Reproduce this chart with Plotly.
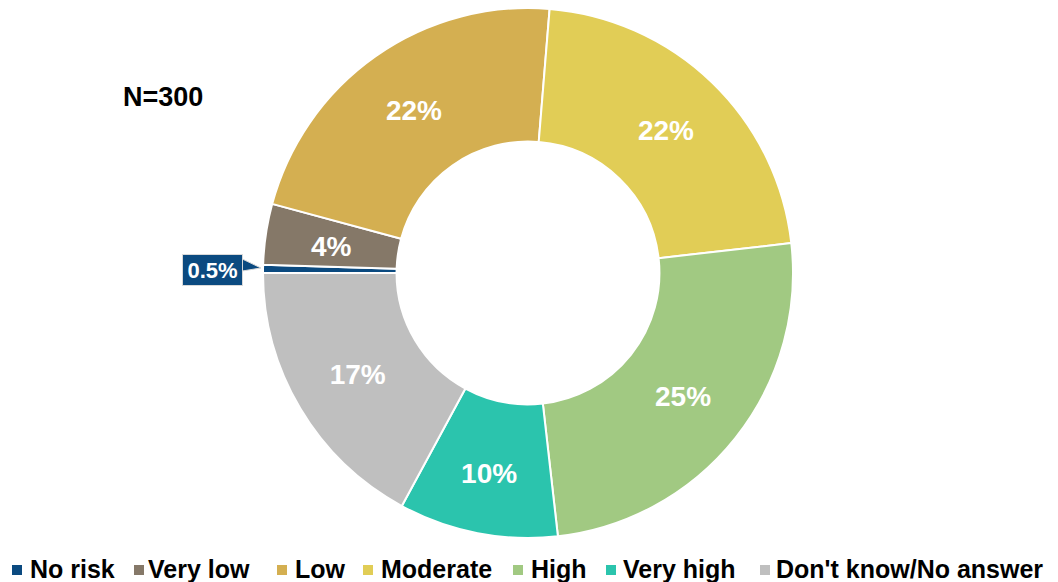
import math
import plotly.graph_objects as go

categories = ["No risk", "Very low", "Low", "Moderate", "High", "Very high", "Don't know/No answer"]
values = [0.5, 3.7, 22.1, 21.9, 25.0, 9.7, 17.1]
value_labels = ["0.5%", "4%", "22%", "22%", "25%", "10%", "17%"]
colors = ["#0B4A80", "#857868", "#D4AF51", "#E1CD56", "#A1C982", "#2BC4AD", "#BFBFBF"]
sample_label = "N=300"

W, H = 1058, 582
OFF = 8  # page body margin of the html page
FONT = "Liberation Sans, Arial"

# layout (screen pixels)
cx, cy, R = 528 - OFF, 273 - OFF, 265
HOLE = 0.496
legend_sym_x = [12, 134, 277, 363, 513, 606, 760]
legend_txt_x = [28, 146, 293, 379, 529, 621, 774]
legend_sym_y = (565, 575)
legend_txt_y = 569


def px(x):
    return (x - OFF) / W


def py(y):
    return 1 - (y - OFF) / H


inside_text = [t if i > 1 else "" for i, t in enumerate(value_labels)]

fig = go.Figure(go.Pie(
    labels=categories,
    values=values,
    text=inside_text,
    textinfo="text",
    textposition="inside",
    insidetextorientation="horizontal",
    textfont=dict(family=FONT, size=28, color="white", weight="bold"),
    marker=dict(colors=colors, line=dict(color="white", width=2)),
    hole=HOLE,
    sort=False,
    direction="clockwise",
    rotation=270,
    domain=dict(x=[(cx - R) / W, (cx + R) / W], y=[max(0, 1 - (cy + R) / H), min(1, 1 - (cy - R) / H)]),
    showlegend=False,
    hoverinfo="label+percent",
))

# label for the "Very low" slice at its mid-angle (computed from the data)
total = sum(values)
mid_deg = 270.0 + (values[0] + values[1] / 2) / total * 360
r_mid = R * (1 + HOLE) / 2
lx = cx + r_mid * math.sin(math.radians(mid_deg))
ly = cy - r_mid * math.cos(math.radians(mid_deg))
fig.add_annotation(
    x=lx / W, y=1 - ly / H, xref="paper", yref="paper", xanchor="center", yanchor="middle",
    text="<b>" + value_labels[1] + "</b>", showarrow=False, yshift=-3,
    font=dict(family=FONT, size=28, color="white"),
)

# callout for the "No risk" slice
fig.add_shape(
    type="path", xref="paper", yref="paper",
    path="M {},{} L {},{} L {},{} Z".format(px(236), py(256), px(261), py(268), px(236), py(272)),
    fillcolor=colors[0], line=dict(color="#D9D9D9", width=1),
)
fig.add_annotation(
    x=px(212.5), y=py(269.5), xref="paper", yref="paper", xanchor="center", yanchor="middle",
    text="<b>" + value_labels[0] + "</b>", showarrow=False,
    font=dict(family=FONT, size=22, color="white"),
    bgcolor=colors[0], bordercolor="#D9D9D9", borderwidth=1, borderpad=1,
    width=57, height=28,
)

fig.add_annotation(
    x=px(163), y=py(97), xref="paper", yref="paper", xanchor="center", yanchor="middle",
    text="<b>" + sample_label + "</b>", showarrow=False,
    font=dict(family=FONT, size=27, color="black"),
)

# legend row
for name, col, sx, tx in zip(categories, colors, legend_sym_x, legend_txt_x):
    fig.add_shape(
        type="rect", xref="paper", yref="paper",
        x0=px(sx), x1=px(sx + 10), y0=py(legend_sym_y[1]), y1=py(legend_sym_y[0]),
        fillcolor=col, line=dict(width=0),
    )
    fig.add_annotation(
        x=px(tx), y=py(legend_txt_y), xref="paper", yref="paper", xanchor="left", yanchor="middle",
        text="<b>" + name + "</b>", showarrow=False,
        font=dict(family=FONT, size=25, color="black"),
    )

fig.update_layout(
    width=W, height=H,
    margin=dict(l=0, r=0, t=0, b=0, autoexpand=False),
    paper_bgcolor="white",
    font=dict(family=FONT),
    showlegend=False,
)

fig.write_html("out.html")
